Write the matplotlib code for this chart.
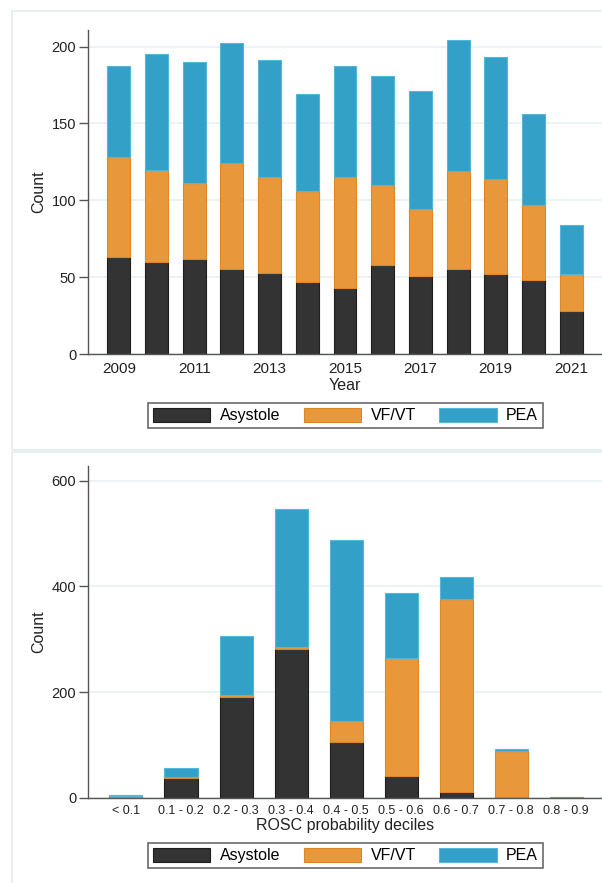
import matplotlib
matplotlib.use("Agg")
import matplotlib.pyplot as plt
import matplotlib.patches as patches
import numpy as np

plt.rcParams['font.family'] = ['Liberation Sans', 'DejaVu Sans']

# data: cardiac arrest rhythm counts by year
years = [2009, 2010, 2011, 2012, 2013, 2014, 2015, 2016, 2017, 2018, 2019, 2020, 2021]
year_asystole = [63, 60, 62, 55, 53, 47, 43, 58, 51, 55, 52, 48, 28]
year_vfvt = [65, 60, 49, 69, 62, 59, 72, 52, 43, 64, 62, 49, 24]
year_pea = [59, 75, 79, 78, 76, 63, 72, 71, 77, 85, 79, 59, 32]

# data: counts by ROSC probability decile
deciles = ["< 0.1", "0.1 - 0.2", "0.2 - 0.3", "0.3 - 0.4", "0.4 - 0.5",
           "0.5 - 0.6", "0.6 - 0.7", "0.7 - 0.8", "0.8 - 0.9"]
dec_asystole = [1, 37, 190, 281, 106, 42, 10, 1, 0]
dec_vfvt = [2, 2, 4, 4, 40, 222, 366, 88, 1]
dec_pea = [2, 17, 113, 262, 342, 124, 42, 3, 0]

labels = ["Asystole", "VF/VT", "PEA"]
fills = ["#333333", "#E8973A", "#33A0C8"]
edges = ["#1E1E1E", "#DE8725", "#55B6DC"]
grid_col = "#E8F1F3"
spine_col = "#555555"

W, H = 602, 883
fig = plt.figure(figsize=(W / 100, H / 100), dpi=100)

# light panel frames
fig.patches.append(patches.Rectangle((12 / W, 1 - 450 / H), 600 / W, 439 / H,
                                     transform=fig.transFigure, fill=False,
                                     edgecolor="#E3EEEE", lw=1.2))
fig.patches.append(patches.Rectangle((12 / W, -0.01), 600 / W, 1 - 452 / H + 0.01,
                                     transform=fig.transFigure, fill=False,
                                     edgecolor="#E3EEEE", lw=1.2))


def style_axes(ax, ticks):
    ax.set_yticks(ticks)
    ax.yaxis.grid(True, color=grid_col, lw=1.2)
    ax.set_axisbelow(True)
    for s in ["top", "right"]:
        ax.spines[s].set_visible(False)
    for s in ["left", "bottom"]:
        ax.spines[s].set_color(spine_col)
        ax.spines[s].set_linewidth(1.0)
    ax.tick_params(axis="y", length=6.5, width=1.0, color=spine_col, pad=2,
                   labelsize=10.5, labelcolor="#222222")
    ax.tick_params(axis="x", length=0, pad=6, labelcolor="#222222")


def stacked(ax, x, width, series):
    bottom = np.zeros(len(x))
    for vals, fc, ec in zip(series, fills, edges):
        ax.bar(x, vals, width, bottom=bottom, color=fc, edgecolor=ec, linewidth=0.8)
        bottom += np.array(vals)


def add_legend(yc):
    handles = [patches.Patch(facecolor=f, edgecolor=e, lw=0.8) for f, e in zip(fills, edges)]
    leg = fig.legend(handles, labels, loc="center", bbox_to_anchor=(345.5 / W, yc),
                     ncol=3, fontsize=11.5, frameon=True, fancybox=False,
                     handlelength=3.6, handleheight=1.0, handletextpad=0.6,
                     columnspacing=1.45, borderpad=0.3)
    leg.get_frame().set_edgecolor("#444444")
    leg.get_frame().set_linewidth(1.2)


# top panel
ax1 = fig.add_axes([88 / W, 1 - 354 / H, (W - 88) / W, (354 - 29.6) / H])
stacked(ax1, np.array(years), 0.61, [year_asystole, year_vfvt, year_pea])
ax1.set_xlim(2008.18, 2021.82)
ax1.set_ylim(0, 211)
style_axes(ax1, [0, 50, 100, 150, 200])
ax1.set_xticks(years[::2])
ax1.tick_params(axis="x", labelsize=11)
ax1.set_xlabel("Year", fontsize=11.5, labelpad=1, color="#222222")
ax1.set_ylabel("Count", fontsize=11.5, labelpad=3.5, color="#222222")
add_legend(1 - 415.5 / H)

# bottom panel
ax2 = fig.add_axes([88 / W, 1 - 797.7 / H, (W - 88) / W, (797.7 - 466) / H])
xpos = np.arange(len(deciles))
stacked(ax2, xpos, 0.6, [dec_asystole, dec_vfvt, dec_pea])
ax2.set_xlim(-0.69, 8.65)
ax2.set_ylim(0, 628)
style_axes(ax2, [0, 200, 400, 600])
ax2.set_xticks(xpos)
ax2.set_xticklabels(deciles)
ax2.tick_params(axis="x", labelsize=9, pad=5)
ax2.set_xlabel("ROSC probability deciles", fontsize=11.5, labelpad=1, color="#222222")
ax2.set_ylabel("Count", fontsize=11.5, labelpad=3.5, color="#222222")
add_legend(1 - 855.5 / H)

fig.savefig("out.png", dpi=100, facecolor="white")
